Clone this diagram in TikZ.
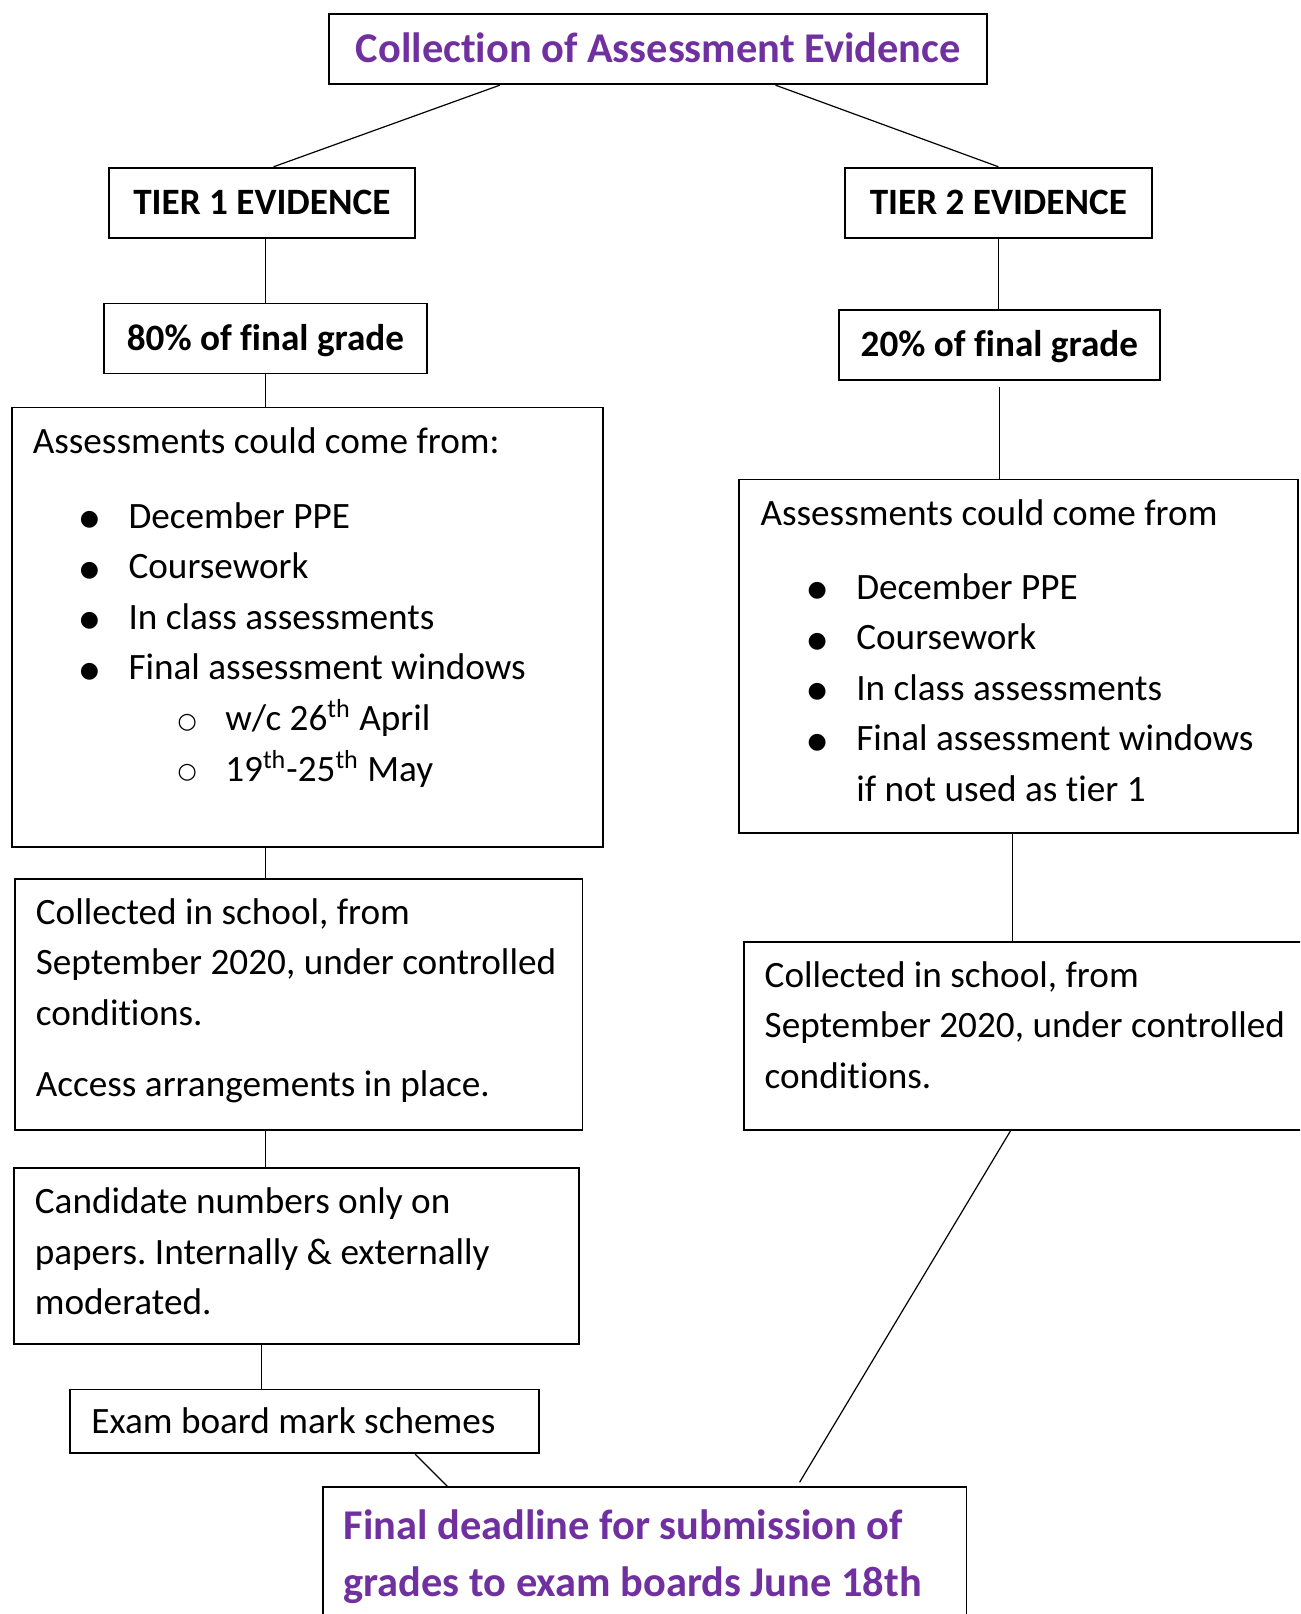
\documentclass[tikz,border=0pt]{standalone}
\usepackage{fontspec}
\setmainfont{Carlito}[Ligatures=NoCommon]
\newfontfamily\bulletfont{DejaVu Sans}
\usetikzlibrary{calc}
\definecolor{titlepurple}{RGB}{112,48,160}
\newlength{\unitpx}
\setlength{\unitpx}{0.51465pt}
\newcommand{\bodysize}{\fontsize{18.6pt}{25.3pt}\selectfont}
\newcommand{\headsize}{\fontsize{21.2pt}{28.3pt}\selectfont}
\newcommand{\bul}{\raisebox{1.2pt}{\fontsize{11pt}{11pt}\bulletfont ●}}
\newcommand{\subbul}{\raisebox{1.2pt}{\fontsize{11pt}{11pt}\bulletfont ○}}
\newcommand{\itm}[1]{\hspace*{55\unitpx}\makebox[0pt]{\bul}\hspace*{38\unitpx}#1}
\newcommand{\subitm}[1]{\hspace*{150\unitpx}\makebox[0pt]{\subbul}\hspace*{37\unitpx}#1}
\newcommand{\boxtext}[4][45]{%kwargs first baseline, height, width, text
  \parbox[t][#2\unitpx][t]{#3\unitpx}{\rule{0pt}{#1\unitpx}#4}}
\frenchspacing
\tikzset{
  box/.style={draw, line width=0.9pt, anchor=north west, inner ysep=0pt, font=\bodysize},
  onebox/.style={box, inner sep=0pt, text height=12pt, text depth=0pt},
  link/.style={line width=0.6pt}
}

\begin{document}
\begin{tikzpicture}[x=\unitpx, y=-\unitpx]
    \useasboundingbox (0,0) rectangle (1263,1568);
    \clip (0,0) rectangle (1263,1568);
    %heading
    \node[onebox, minimum width=639\unitpx, minimum height=68\unitpx,
      font=\headsize\bfseries, text=titlepurple, text height=13.2pt] (title) at (319,13)
      {Collection of Assessment Evidence};
    %tier 1 column
    \node[onebox, minimum width=297\unitpx, minimum height=68\unitpx, font=\bodysize\bfseries]
      (t1) at (105,162) {TIER 1 EVIDENCE};
    \node[onebox, minimum width=314\unitpx, minimum height=68\unitpx, font=\bodysize\bfseries]
      (p80) at (100,294) {80\% of final grade};
    \node[box, inner xsep=20\unitpx] (as1) at (11,395) {\boxtext{427}{534}{%
      Assessments could come from:\\[23\unitpx]
      \itm{December PPE}\\
      \itm{Coursework}\\
      \itm{In class assessments}\\
      \itm{Final assessment windows}\\
      \subitm{w/c 26\textsuperscript{th} April}\\
      \subitm{19\textsuperscript{th}-25\textsuperscript{th} May}}};
    \node[box, inner xsep=20\unitpx] (col1) at (14,853) {\boxtext[44]{244}{511}{%
      Collected in school, from\\
      September 2020, under controlled\\
      conditions.\\[20\unitpx]
      Access arrangements in place.}};
    \node[box, inner xsep=20\unitpx] (cand) at (13,1134) {\boxtext[44]{171}{509}{%
      Candidate numbers only on\\
      papers. Internally \& externally\\
      moderated.}};
    \node[onebox, inner xsep=21\unitpx, minimum height=62\unitpx]
      (exam) at (67,1349) {\makebox[414\unitpx][l]{Exam board mark schemes}};
    %tier 2 column
    \node[onebox, minimum width=298\unitpx, minimum height=68\unitpx, font=\bodysize\bfseries]
      (t2) at (820,162) {TIER 2 EVIDENCE};
    \node[onebox, minimum width=312\unitpx, minimum height=68\unitpx, font=\bodysize\bfseries]
      (p20) at (814,300) {20\% of final grade};
    \node[box, inner xsep=21\unitpx] (as2) at (717,465) {\boxtext{343}{501}{%
      Assessments could come from\\[22\unitpx]
      \itm{December PPE}\\
      \itm{Coursework}\\
      \itm{In class assessments}\\
      \itm{Final assessment windows}\\
      \hspace*{93\unitpx}if not used as tier 1}};
    \node[box, inner xsep=20\unitpx] (col2) at (722,914) {\boxtext[44]{183}{513}{%
      Collected in school, from\\
      September 2020, under controlled\\
      conditions.}};
    %deadline
    \node[box, inner xsep=20\unitpx, font=\headsize\bfseries, text=titlepurple] (final) at (313,1444)
      {\boxtext[51]{200}{585}{%
      Final deadline for submission of\\
      grades to exam boards June 18th}};
    %connectors
    \draw[link] ($(title.south west)!0.26!(title.south east)$) -- ([xshift=11.5\unitpx]t1.north);
    \draw[link] ($(title.south west)!0.678!(title.south east)$) -- (t2.north);
    \draw[link] (t1.south -| p80.north) -- (p80.north);
    \draw[link] (p80.south) -- (p80.south |- as1.north);
    \draw[link] (as1.south -| p80.south) -- (col1.north -| p80.south);
    \draw[link] (col1.south -| p80.south) -- (cand.north -| p80.south);
    \draw[link] ([xshift=-4\unitpx]cand.south -| p80.south) -- ([xshift=-4\unitpx]exam.north -| p80.south);
    \draw[link] ($(exam.south west)!0.735!(exam.south east)$) -- ($(final.north west)!0.194!(final.north east)$);
    \draw[link] (t2.south) -- (t2.south |- p20.north);
    \draw[link] ([yshift=-6\unitpx]p20.south) -- (p20.south |- as2.north);
    \draw[link] ([xshift=-5.5\unitpx]as2.south) -- ([xshift=-5.5\unitpx]as2.south |- col2.north);
    \draw[link] ($(col2.south west)!0.468!(col2.south east)$) -- ([yshift=4\unitpx]$(final.north west)!0.74!(final.north east)$);
\end{tikzpicture}
\end{document}
